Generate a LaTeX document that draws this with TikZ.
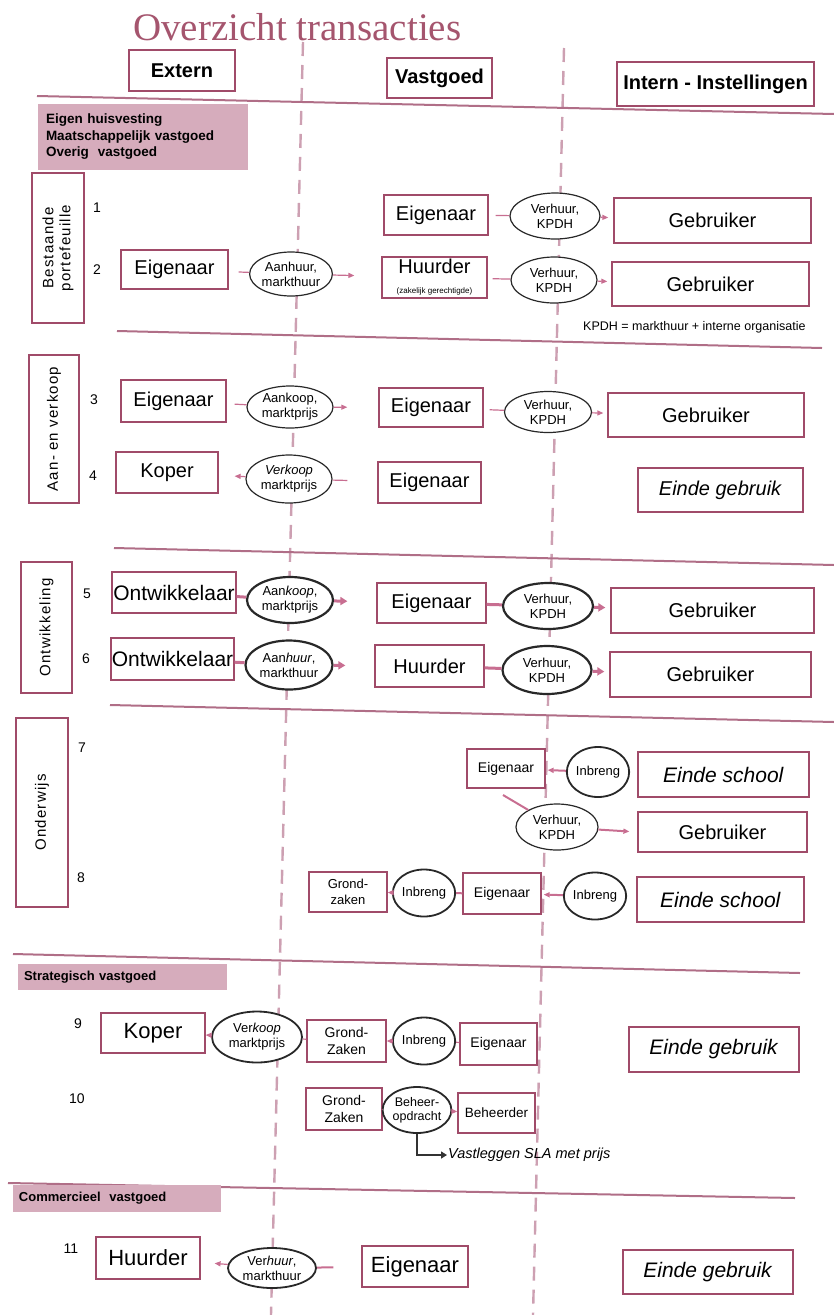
\documentclass[tikz,border=0pt]{standalone}
\usepackage{fontspec}
\setmainfont{Liberation Sans}
\newfontfamily\titlefont{Liberation Serif}
\newfontfamily\spacedfont[LetterSpace=8]{Liberation Sans}
\usetikzlibrary{arrows.meta,calc,shapes.geometric}
\definecolor{mauve}{RGB}{160,75,105}
\definecolor{linec}{RGB}{176,110,135}
\definecolor{dashc}{RGB}{205,160,178}
\definecolor{shade}{RGB}{214,172,188}
\definecolor{arrc}{RGB}{200,110,145}
\definecolor{ellc}{RGB}{40,40,40}
\definecolor{titlec}{RGB}{165,85,110}
\newcommand\fsz[2]{\fontsize{#1}{#2}\selectfont}
\begin{document}
\begin{tikzpicture}[x=1pt,y=-1pt,
 bx/.style={draw=mauve, line width=1.3pt, fill=white, inner sep=1pt, align=center, font=\fsz{20}{22}},
 hdr/.style={bx, font=\bfseries\fsz{20}{22}},
 el/.style={ellipse, draw=ellc, line width=1.2pt, fill=white, inner sep=0pt, align=center, font=\fsz{13}{15}},
 elt/.style={el, line width=2.2pt},
 sbox/.style={bx, font=\fsz{14}{16}},
 num/.style={font=\fsz{14}{16}},
 vlab/.style={draw=mauve, line width=1.2pt, rotate=90, align=center, font=\spacedfont\fsz{15}{17}, inner sep=0pt},
 shd/.style={fill=shade, draw=none, align=left, font=\bfseries\fsz{13.5}{16.5}, inner xsep=8pt, inner ysep=0pt},
 sect/.style={draw=linec, line width=2pt},
 vdash/.style={draw=dashc, line width=2.4pt, dash pattern=on 14pt off 9pt},
 lnk/.style={draw=arrc, line width=1.2pt},
 arr/.style={lnk, -{Triangle[length=6pt,width=5pt]}},
 lnkt/.style={draw=arrc, line width=3pt},
 arrt/.style={lnkt, -{Triangle[length=7pt,width=8pt]}},
 elb/.style={draw=black!80, line width=2.5pt, -{Triangle[length=6pt,width=7pt]}},
]
\useasboundingbox (0,0) rectangle (834,1315);

% title
\node[font=\titlefont\fsz{39}{41}, text=titlec, anchor=base west, inner sep=0pt] (title) at (133,40) {Overzicht transacties};

% dashed column separators
\coordinate (d1t) at (303,42); \coordinate (d1b) at (271,1315);
\coordinate (d2t) at (564,48); \coordinate (d2b) at (533,1315);
\draw[vdash] (d1t) -- (d1b);
\draw[vdash] (d2t) -- (d2b);

% section lines
\coordinate (l0a) at (37,96);   \coordinate (l0b) at (834,114);
\coordinate (l1a) at (117,331); \coordinate (l1b) at (822,348);
\coordinate (l2a) at (114,548); \coordinate (l2b) at (834,565);
\coordinate (l3a) at (110,705); \coordinate (l3b) at (834,722);
\coordinate (l4a) at (13,954);  \coordinate (l4b) at (800,973);
\coordinate (l5a) at (8,1183);  \coordinate (l5b) at (795,1198);
\draw[sect] (l0a) -- (l0b);
\draw[sect] (l1a) -- (l1b);
\draw[sect] (l2a) -- (l2b);
\draw[sect] (l3a) -- (l3b);
\draw[sect] (l4a) -- (l4b);
\draw[sect] (l5a) -- (l5b);

% headers
\node[hdr, minimum width=106, minimum height=41] (hExt) at (182,70.5) {Extern};
\node[hdr, minimum width=105, minimum height=40] (hVast) at (439.5,78) {Vastgoed};
\node[hdr, minimum width=197, minimum height=44] (hInt) at (715.5,84) {Intern - Instellingen};

% shaded category boxes
\node[shd, text width=194, minimum height=66] (sh1) at (143,137) {Eigen huisvesting\\Maatschappelijk vastgoed\\Overig\ \ vastgoed};
\node[shd, text width=197, minimum height=26, inner xsep=6pt, font=\bfseries\fsz{13}{15}] (sh2) at (122.5,977) {Strategisch vastgoed};
\node[shd, text width=196, minimum height=27, inner xsep=6pt, font=\bfseries\fsz{13}{15}] (sh3) at (117,1198.5) {Commercieel\ \ vastgoed};

% vertical labels
\node[vlab, minimum width=150, minimum height=52] (vb1) at (58,248) {Bestaande\\portefeuille};
\node[vlab, minimum width=148, minimum height=50] (vb2) at (54,429) {Aan- en verkoop};
\node[vlab, minimum width=131, minimum height=51] (vb3) at (46.5,627.5) {Ontwikkeling};
\node[vlab, minimum width=189, minimum height=52] (vb4) at (42,812.5) {Onderwijs};

% numbers
\node[num] (n1) at (97,208) {1};
\node[num] (n2) at (97,270) {2};
\node[num] (n3) at (94,400) {3};
\node[num] (n4) at (93,476) {4};
\node[num] (n5) at (87,594) {5};
\node[num] (n6) at (86,659) {6};
\node[num] (n7) at (82,748) {7};
\node[num] (n8) at (81,878) {8};
\node[num] (n9) at (78,1024) {9};
\node[num] (n10) at (77,1099) {10};
\node[num] (n11) at (71,1249) {11};

% ---------- row 1
\node[bx, minimum width=104, minimum height=40] (e1) at (436,215) {Eigenaar};
\node[el, minimum width=90, minimum height=46] (v1) at (555,216) {Verhuur,\\KPDH};
\node[bx, minimum width=197, minimum height=45] (g1) at (712.5,220.5) {Gebruiker};
\draw[lnk, shorten <=7pt] (e1) -- (v1);
\draw[arr, shorten >=5pt] (v1) -- (g1);

% ---------- row 2
\node[bx, minimum width=107, minimum height=39] (e2) at (174.5,269.5) {Eigenaar};
\node[el, minimum width=82, minimum height=44] (a2) at (291,274) {Aanhuur,\\markthuur};
\node[bx, minimum width=105, minimum height=41, inner ysep=0pt] (h2) at (434.5,277.5) {Huurder\\[-2pt]{\fsz{8}{9}(zakelijk gerechtigde)}};
\node[el, minimum width=86, minimum height=46] (v2) at (554,280) {Verhuur,\\KPDH};
\node[bx, minimum width=197, minimum height=44] (g2) at (710.5,284) {Gebruiker};
\draw[lnk, shorten <=10pt] (e2) -- (a2);
\draw[arr, shorten >=27pt] (a2) -- (h2);
\draw[lnk, shorten <=5pt] (h2) -- (v2);
\draw[arr, shorten >=4pt] (v2) -- (g2);

\node[anchor=west, font=\fsz{12.5}{14}, inner sep=0pt] (kpdh) at (583,327) {KPDH = markthuur + interne organisatie};

% ---------- row 3
\node[bx, minimum width=105, minimum height=42] (e3) at (173.5,401) {Eigenaar};
\node[el, minimum width=86, minimum height=42] (a3) at (290,407) {Aankoop,\\marktprijs};
\node[bx, minimum width=104, minimum height=39] (e3b) at (431,407.5) {Eigenaar};
\node[el, minimum width=87, minimum height=41] (v3) at (548,412) {Verhuur,\\KPDH};
\node[bx, minimum width=196, minimum height=44] (g3) at (706,415) {Gebruiker};
\draw[lnk, shorten <=8pt] (e3) -- (a3);
\draw[arr, shorten >=31pt] (a3) -- (e3b);
\draw[lnk, shorten <=6pt] (e3b) -- (v3);
\draw[arr, shorten >=4pt] (v3) -- (g3);

% ---------- row 4
\node[bx, minimum width=102, minimum height=41] (k4) at (167,472.5) {Koper};
\node[el, minimum width=86, minimum height=48] (a4) at (289,479) {\textit{Verkoop}\\marktprijs};
\node[bx, minimum width=103, minimum height=41] (e4) at (429.5,482.5) {Eigenaar};
\node[bx, minimum width=165, minimum height=44] (eg4) at (720.5,490) {\textit{Einde gebruik}};
\draw[arr, shorten >=16pt] (a4) -- (k4);
\draw[lnk, shorten >=30pt] (a4) -- (e4);

% ---------- row 5
\node[bx, minimum width=124, minimum height=41, font=\fsz{21}{23}, inner xsep=0pt] (o5) at (174,592.5) {Ontwikkelaar};
\node[elt, minimum width=86, minimum height=46] (a5) at (290,600) {Aan\textit{koop},\\marktprijs};
\node[bx, minimum width=109, minimum height=40] (e5) at (431.5,603) {Eigenaar};
\node[elt, minimum width=90, minimum height=46] (v5) at (548,606) {Verhuur,\\KPDH};
\node[bx, minimum width=203, minimum height=45] (g5) at (712.5,610.5) {Gebruiker};
\draw[lnkt] (o5) -- (a5);
\draw[arrt, shorten >=29pt] (a5) -- (e5);
\draw[lnkt] (e5) -- (v5);
\draw[arrt, shorten >=5pt] (v5) -- (g5);

% ---------- row 6
\node[bx, minimum width=123, minimum height=42, font=\fsz{21}{23}, inner xsep=0pt] (o6) at (172.5,659) {Ontwikkelaar};
\node[elt, minimum width=87, minimum height=49] (a6) at (289,665) {Aan\textit{huur},\\markthuur};
\node[bx, minimum width=109, minimum height=42] (h6) at (429.5,666) {Huurder};
\node[elt, minimum width=89, minimum height=48] (v6) at (547,670) {Verhuur,\\KPDH};
\node[bx, minimum width=201, minimum height=45] (g6) at (710.5,674.5) {Gebruiker};
\draw[lnkt] (o6) -- (a6);
\draw[arrt, shorten >=29pt] (a6) -- (h6);
\draw[lnkt] (h6) -- (v6);
\draw[arrt, shorten >=5pt] (v6) -- (g6);

% ---------- row 7
\node[sbox, minimum width=78, minimum height=39] (e7) at (506,768.5) {Eigenaar};
\node[elt, line width=1.8pt, minimum width=60, minimum height=50] (i7) at (598,772) {Inbreng};
\node[bx, minimum width=171, minimum height=45, font=\fsz{21}{23}] (s7) at (723.5,774.5) {\textit{Einde school}};
\node[el, minimum width=82, minimum height=46] (v7) at (557,827) {Verhuur,\\KPDH};
\node[bx, minimum width=169, minimum height=40] (g7) at (722.5,832) {Gebruiker};
\coordinate (c7) at (503,795);
\draw[arr, line width=2pt, shorten >=2pt] (i7) -- (e7);
\draw[lnk, line width=2pt] (c7) -- (v7);
\draw[arr, line width=2pt, shorten >=8pt] (v7) -- (g7.west);

% ---------- row 8
\node[sbox, minimum width=78, minimum height=40, font=\fsz{13}{16}] (gz8) at (348,892) {Grond-\\zaken};
\node[elt, line width=1.8pt, minimum width=56, minimum height=47] (i8a) at (424,893) {Inbreng};
\node[sbox, minimum width=78, minimum height=41] (e8) at (502,893.5) {Eigenaar};
\node[elt, line width=1.8pt, minimum width=62, minimum height=47] (i8b) at (595,896) {Inbreng};
\node[bx, minimum width=167, minimum height=45, font=\fsz{21}{23}] (s8) at (720.5,899.5) {\textit{Einde school}};
\draw[arr, line width=2pt] (i8a) -- (gz8);
\draw[lnk, line width=2pt] (e8) -- (i8a);
\draw[arr, line width=2pt, shorten >=2pt] (i8b) -- (e8);

% ---------- row 9
\node[bx, minimum width=104, minimum height=40, font=\fsz{22}{24}] (k9) at (153,1033) {Koper};
\node[elt, line width=1.8pt, minimum width=90, minimum height=51] (a9) at (257,1037) {Ver\textit{koop}\\marktprijs};
\node[sbox, minimum width=79, minimum height=42, font=\fsz{14}{17}] (gz9) at (346.5,1041) {Grond-\\Zaken};
\node[elt, line width=1.8pt, minimum width=59, minimum height=47] (i9) at (424,1041) {Inbreng};
\node[sbox, minimum width=77, minimum height=42] (e9) at (498.5,1044) {Eigenaar};
\node[bx, minimum width=170, minimum height=45, font=\fsz{21}{23}] (eg9) at (714,1049.5) {\textit{Einde gebruik}};
\draw[arr] (a9) -- (k9);
\draw[lnk] (gz9) -- (a9);
\draw[arr] (i9) -- (gz9);
\draw[lnk] (e9) -- (i9);

% ---------- row 10
\node[sbox, minimum width=76, minimum height=42, font=\fsz{14}{17}] (gz10) at (344,1109) {Grond-\\Zaken};
\node[elt, line width=1.8pt, minimum width=62, minimum height=46, font=\fsz{12.5}{14}] (b10) at (417,1110) {Beheer-\\opdracht};
\node[sbox, minimum width=77, minimum height=40, font=\fsz{13.5}{16}] (bh10) at (496.5,1113) {Beheerder};
\node[anchor=west, font=\itshape\fsz{14.5}{16}, inner sep=1pt] (sla) at (447,1155) {Vastleggen SLA met prijs};
\draw[lnk] (gz10) -- (b10);
\draw[arr] (b10) -- (bh10);
\draw[elb] (b10.south) |- (sla.west);

% ---------- row 11
\node[bx, minimum width=104, minimum height=42, font=\fsz{22}{24}] (h11) at (148,1258) {Huurder};
\node[elt, line width=1.8pt, minimum width=88, minimum height=40] (a11) at (272,1268) {Ver\textit{huur},\\markthuur};
\node[bx, minimum width=106, minimum height=41, font=\fsz{22}{24}] (e11) at (415,1266.5) {Eigenaar};
\node[bx, minimum width=170, minimum height=44, font=\fsz{21}{23}] (eg11) at (708,1272) {\textit{Einde gebruik}};
\draw[arr, shorten >=14pt] (a11) -- (h11);
\draw[lnk, line width=2pt, shorten >=28pt] (a11) -- (e11);
\end{tikzpicture}
\end{document}
